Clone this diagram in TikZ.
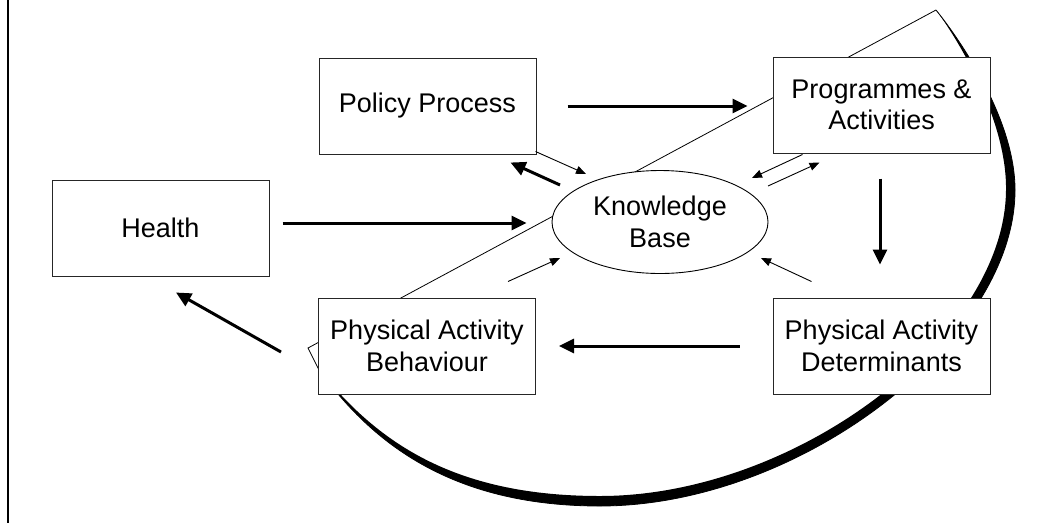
\documentclass[tikz,border=0pt]{standalone}
\usepackage{fontspec}
\setmainfont{Liberation Sans}
\usetikzlibrary{arrows.meta,shapes.geometric,calc}
\begin{document}
\begin{tikzpicture}[x=1pt,y=-1pt,
  box/.style={draw=black!85, line width=1pt, fill=white, minimum width=217pt, minimum height=96pt,
    inner sep=0pt, align=center, font=\fontsize{27}{31.5}\selectfont},
  kbnode/.style={ellipse, draw=black, line width=0.9pt, fill=white, minimum width=216pt,
    minimum height=103pt, inner sep=0pt, align=center, font=\fontsize{27}{31.5}\selectfont},
  bigarrow/.style={line width=3pt, -{Triangle[length=15pt,width=14pt]}},
  smallarrow/.style={line width=0.9pt, -{Triangle[length=10pt,width=8pt]}},
  thinline/.style={line width=0.8pt}
]
\useasboundingbox (0,0) rectangle (1043,523);
\fill[white] (0,0) rectangle (1043,523);

% left border line
\draw[line width=2.5pt] (8,0) -- (8,523);

% crescent swoosh
\coordinate (cl) at (318,368);
\coordinate (ct) at (936,10);
\coordinate (cn) at (308,348);
\fill[black] (cl) .. controls (376,450) and (460,506) .. (600,506)
  .. controls (800,506) and (1015,340) .. (1015,190)
  .. controls (1015,120) and (961,41) .. (ct)
  .. controls (960,42) and (1007,122) .. (1006,190)
  .. controls (1005,338) and (795,496) .. (600,496)
  .. controls (460,496) and (380,447) .. (cl) -- cycle;
\draw[thinline] (cl) .. controls (376,450) and (460,506) .. (600,506)
  .. controls (800,506) and (1015,340) .. (1015,190)
  .. controls (1015,120) and (961,41) .. (ct);
\draw[thinline, line join=miter] (cl) -- (cn) -- (ct);

% nodes
\node[box] (pp) at (427.5,106) {Policy Process};
\node[box] (pa) at (881.5,105) {Programmes \&\\Activities};
\node[box] (h)  at (160.5,228) {Health};
\node[box] (pb) at (427,346) {Physical Activity\\Behaviour};
\node[box] (pd) at (881.5,346) {Physical Activity\\Determinants};
\node[kbnode] (kb) at (660,222) {Knowledge\\Base};

% thick arrows
\draw[bigarrow] ($(pp.east)+(31,0)$) -- ($(pa.west)+(-25,1)$);
\draw[bigarrow] ($(h.east)+(13,-5)$) -- ($(kb.west)+(-25,1)$);
\draw[bigarrow] ($(pa.south)+(-1.5,25)$) -- ($(pd.north)+(-1.5,-33)$);
\draw[bigarrow] ($(pd.west)+(-33,0)$) -- ($(pb.east)+(23,0)$);
\draw[bigarrow] ($(pb.west)+(-37,6)$) -- ($(h.south)+(15.5,16)$);
\draw[bigarrow] ($(kb)+(-100,-37)$) -- ($(pp.south east)+(-26,8)$);

% thin arrows
\draw[smallarrow] ($(pp.south east)+(-1,-3)$) -- ($(kb)+(-74,-48)$);
\draw[smallarrow] ($(pa.south west)+(30,1)$) -- ($(kb)+(92,-44)$);
\draw[smallarrow] ($(kb)+(108,-36)$) -- ($(pa.south west)+(47,9)$);
\draw[smallarrow] ($(pb.north east)+(-28,-16)$) -- ($(kb)+(-100,36)$);
\draw[smallarrow] ($(pd.north west)+(39,-16)$) -- ($(kb)+(101,36)$);
\end{tikzpicture}
\end{document}
